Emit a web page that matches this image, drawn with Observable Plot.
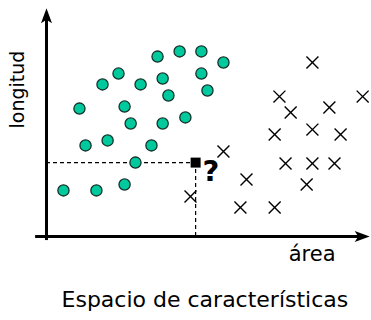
<!DOCTYPE html>
<html>
<head>
<meta charset="utf-8">
<script src="https://cdn.jsdelivr.net/npm/d3@7"></script>
<script src="https://cdn.jsdelivr.net/npm/@observablehq/plot@0.6"></script>
<style>
  html, body { margin: 0; padding: 0; background: #fff; }
</style>
</head>
<body>
<div id="chart"></div>
<script>
// Class A (circles): area, longitud
const circleArea = [3.47, 4.16, 4.84, 5.53, 2.25, 2.94, 3.63, 4.84, 1.75, 3.81, 5.03, 1.03, 2.44, 2.63, 3.63, 4.34, 1.22, 1.91, 3.28, 2.78, 0.53, 1.56, 2.44];
const circleLong = [7.96, 8.19, 8.19, 7.70, 7.21, 6.73, 6.99, 7.21, 6.73, 6.24, 6.46, 5.66, 5.75, 5.00, 5.00, 5.27, 4.03, 4.25, 4.03, 3.27, 2.04, 2.04, 2.30];
// Class B (crosses)
const crossArea = [8.31, 7.28, 9.88, 7.63, 8.84, 8.31, 7.13, 9.19, 5.53, 7.47, 8.31, 9.00, 6.25, 8.13, 4.50, 6.06, 7.13];
const crossLong = [7.70, 6.19, 6.19, 5.49, 5.71, 4.73, 4.51, 4.51, 3.76, 3.23, 3.23, 3.23, 2.52, 2.30, 1.77, 1.28, 1.28];
// Unknown sample
const queryArea = [4.66];
const queryLong = [3.27];
// Labels
const xLabel = "área";
const yLabel = "longitud";
const title = "Espacio de características";
// Axis extents (data units)
const xAxisExtent = [-0.34, 10.1];
const yAxisExtent = [-0.18, 10.1];

const circles = circleArea.map((a, i) => ({area: a, longitud: circleLong[i]}));
const crosses = crossArea.map((a, i) => ({area: a, longitud: crossLong[i]}));
const query = queryArea.map((a, i) => ({area: a, longitud: queryLong[i]}));

// Filled notched arrowhead; tip at origin, body extending along +y
const arrowHead = {
  draw(ctx) {
    ctx.moveTo(0, 0);
    ctx.lineTo(5.5, 15);
    ctx.lineTo(0, 11.5);
    ctx.lineTo(-5.5, 15);
    ctx.closePath();
  }
};

const chart = Plot.plot({
  width: 371,
  height: 320,
  marginLeft: 46,
  marginRight: 5,
  marginTop: 10,
  marginBottom: 84,
  x: {domain: [0, 10], axis: null},
  y: {domain: [0, 10], axis: null},
  style: {background: "white", overflow: "visible"},
  marks: [
    // dashed guides to the unknown sample
    Plot.ruleY(query, {x1: 0, x2: "area", y: "longitud", stroke: "black", strokeWidth: 1.2, strokeDasharray: "4,3"}),
    Plot.ruleX(query, {x: "area", y1: 0, y2: "longitud", stroke: "black", strokeWidth: 1.2, strokeDasharray: "4,3"}),
    // axes
    Plot.ruleY([0], {x1: xAxisExtent[0], x2: xAxisExtent[1] - 0.3, stroke: "black", strokeWidth: 3}),
    Plot.ruleX([0], {y1: yAxisExtent[0], y2: yAxisExtent[1] - 0.4, stroke: "black", strokeWidth: 3}),
    Plot.dot([{x: xAxisExtent[1], y: 0}], {x: "x", y: "y", symbol: arrowHead, rotate: 90, fill: "black", stroke: "none", r: 5}),
    Plot.dot([{x: 0, y: yAxisExtent[1]}], {x: "x", y: "y", symbol: arrowHead, rotate: 0, fill: "black", stroke: "none", r: 5}),
    // class A
    Plot.dot(circles, {x: "area", y: "longitud", r: 5.6, fill: "#00c99e", stroke: "#14332b", strokeWidth: 1.3}),
    // class B
    Plot.dot(crosses, {x: "area", y: "longitud", symbol: "times", r: 5.5, stroke: "black", strokeWidth: 1.4}),
    // unknown sample
    Plot.dot(query, {x: "area", y: "longitud", symbol: "square", r: 5.64, fill: "black", stroke: "none"}),
    Plot.text(query, {x: "area", y: "longitud", text: () => "?", textAnchor: "start", dx: 7, dy: 9, fontSize: 29, fontWeight: "bold", fontFamily: "DejaVu Sans", fill: "black"}),
    // labels
    Plot.text([yLabel], {x: -0.9, y: 6.5, text: d => d, rotate: -90, fontSize: 19, fontFamily: "DejaVu Sans", fill: "black"}),
    Plot.text([xLabel], {x: 8.3, y: -0.8, text: d => d, fontSize: 21, fontFamily: "DejaVu Sans", fill: "black"}),
    Plot.text([title], {x: 4.95, y: -2.8, text: d => d, fontSize: 22, fontFamily: "DejaVu Sans", fill: "black"})
  ]
});
document.getElementById("chart").appendChild(chart);
</script>
</body>
</html>
